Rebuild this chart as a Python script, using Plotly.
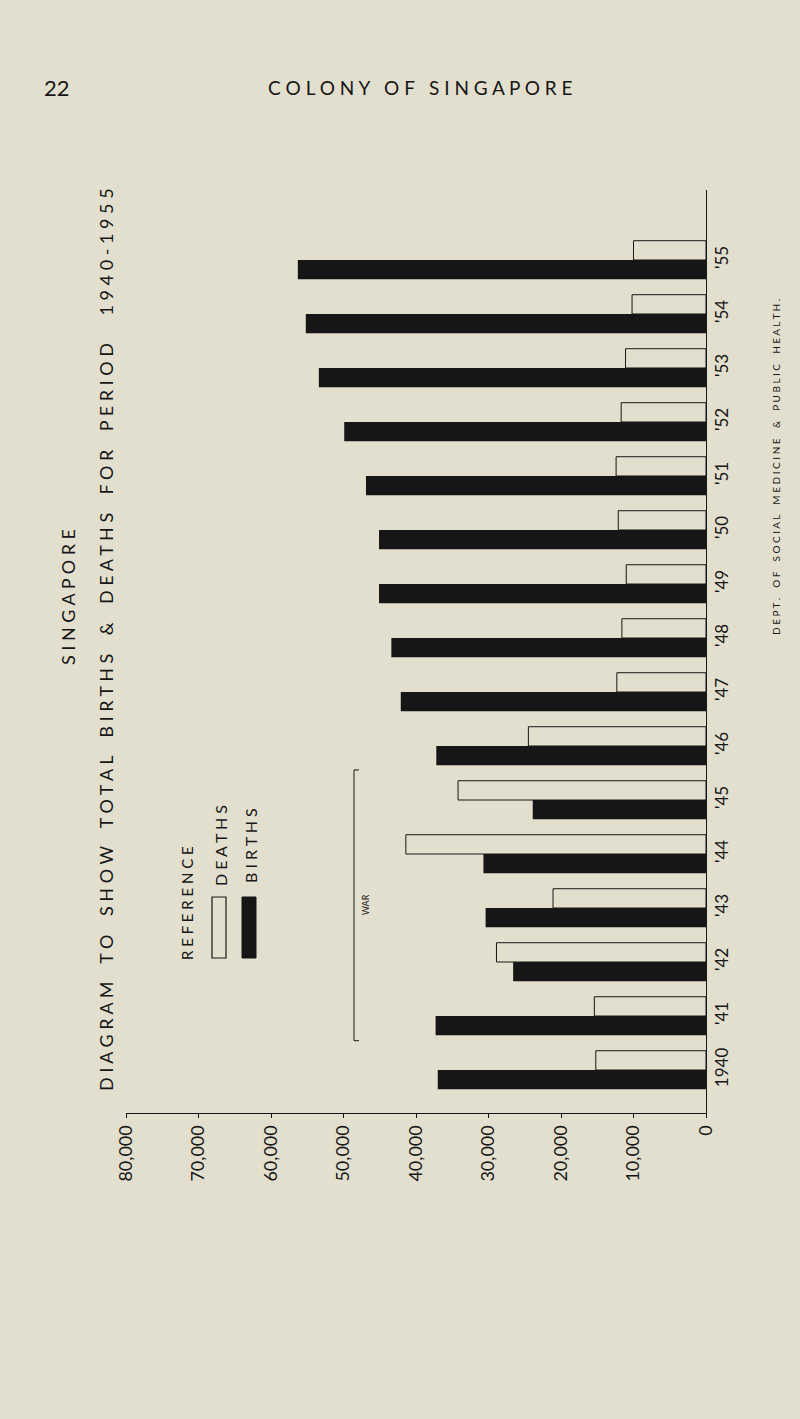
import plotly.graph_objects as go

# ---------------- data ----------------
years = list(range(1940, 1956))
year_labels = ["1940", "'41", "'42", "'43", "'44", "'45", "'46", "'47",
               "'48", "'49", "'50", "'51", "'52", "'53", "'54", "'55"]
births = [37000, 37300, 26600, 30400, 30700, 23900, 37200, 42100,
          43400, 45100, 45100, 46900, 49900, 53400, 55200, 56300]
deaths = [15200, 15400, 28900, 21100, 41400, 34200, 24500, 12300,
          11600, 11000, 12100, 12400, 11700, 11100, 10200, 10000]
x_tick_vals = [80000, 70000, 60000, 50000, 40000, 30000, 20000, 10000, 0]
x_tick_text = ["80,000", "70,000", "60,000", "50,000", "40,000",
               "30,000", "20,000", "10,000", "0"]
war_years = [1941, 1945]

# ---------------- geometry ----------------
W, H = 800, 1419
L, R = 126, 706          # plot left / right pixel
T, B = 190, 1113         # plot top / bottom pixel
BG = "#e3dfce"
INK = "#161616"
FONT = "Lato"
bar_w = 0.357

def px(xp):   # pixel x -> paper x
    return (xp - L) / (R - L)

def py(yp):   # pixel y -> paper y
    return (B - yp) / (B - T)

def note(x, y, text, size, angle=0, xref="paper", yref="paper"):
    return dict(x=x, y=y, xref=xref, yref=yref, text=text, textangle=angle,
                showarrow=False, xanchor="center", yanchor="middle",
                font=dict(family=FONT, size=size, color=INK))

NB = "\u00a0"

def spaced(words, gap=3):
    return (NB * gap).join(NB.join(list(w)) for w in words)

fig = go.Figure()
fig.add_trace(go.Bar(
    y=years, x=deaths, orientation="h", width=bar_w, offset=0,
    marker=dict(color=BG, line=dict(color=INK, width=1)), name="DEATHS"))
fig.add_trace(go.Bar(
    y=years, x=births, orientation="h", width=bar_w, offset=-bar_w,
    marker=dict(color=INK, line=dict(color=INK, width=0)), name="BIRTHS"))

shapes = []
annotations = []

# page header
annotations.append(note(px(57), py(88), "22", 22))
annotations.append(note(px(420), py(88), spaced(["COLONY", "OF", "SINGAPORE"], 3), 19))

# rotated title
annotations.append(note(px(68), py(597), spaced(["SINGAPORE"]), 18, -90))
title2 = spaced(["DIAGRAM", "TO", "SHOW", "TOTAL", "BIRTHS", "&", "DEATHS",
                 "FOR", "PERIOD"], 4) + NB * 6 + NB.join(list("1940-1955"))
annotations.append(note(px(106), py(640), title2.replace("&", "&amp;"), 18, -90))

# legend
annotations.append(note(px(187), py(903), spaced(["REFERENCE"]), 15, -90))
annotations.append(note(px(220), py(846), spaced(["DEATHS"]), 16, -90))
annotations.append(note(px(250), py(846), spaced(["BIRTHS"]), 16, -90))
shapes.append(dict(type="rect", xref="paper", yref="paper",
                   x0=px(212), x1=px(226), y0=py(958), y1=py(897),
                   line=dict(color=INK, width=1.2), fillcolor=BG))
shapes.append(dict(type="rect", xref="paper", yref="paper",
                   x0=px(242), x1=px(256), y0=py(958), y1=py(897),
                   line=dict(color=INK, width=1), fillcolor=INK))

# WAR bracket
y_top = war_years[1] + bar_w + 0.2
y_bot = war_years[0] - bar_w - 0.1
shapes.append(dict(type="line", xref="paper", yref="y", x0=px(354), x1=px(354),
                   y0=y_bot, y1=y_top, line=dict(color=INK, width=1)))
shapes.append(dict(type="line", xref="paper", yref="y", x0=px(354), x1=px(359),
                   y0=y_top, y1=y_top, line=dict(color=INK, width=1)))
shapes.append(dict(type="line", xref="paper", yref="y", x0=px(354), x1=px(359),
                   y0=y_bot, y1=y_bot, line=dict(color=INK, width=1)))
annotations.append(note(px(365), (y_top + y_bot) / 2, "WAR", 9, -90, yref="y"))

# department credit
dept = spaced(["DEPT.", "OF", "SOCIAL", "MEDICINE", "&", "PUBLIC", "HEALTH."], 4)
annotations.append(note(px(776), py(467), dept.replace("&", "&amp;"), 10, -90))

fig.update_layout(
    width=W, height=H,
    margin=dict(l=L, r=W - R, t=T, b=H - B),
    paper_bgcolor=BG, plot_bgcolor=BG,
    barmode="overlay", showlegend=False,
    shapes=shapes, annotations=annotations,
    xaxis=dict(range=[80000, 0], tickmode="array", tickvals=x_tick_vals,
               ticktext=x_tick_text, tickangle=-90, showgrid=False, zeroline=False,
               showline=True, linecolor=INK, linewidth=1.2, ticks="outside",
               ticklen=4, tickcolor=INK,
               tickfont=dict(family=FONT, size=18, color=INK)),
    yaxis=dict(range=[1940 - 0.796, 1940 + 16.296], side="right", tickmode="array",
               tickvals=years, ticktext=year_labels, tickangle=-90, showgrid=False,
               zeroline=False, showline=True, linecolor=INK, linewidth=1.2,
               ticks="", tickfont=dict(family=FONT, size=17, color=INK)),
)

fig.write_html("out.html")
